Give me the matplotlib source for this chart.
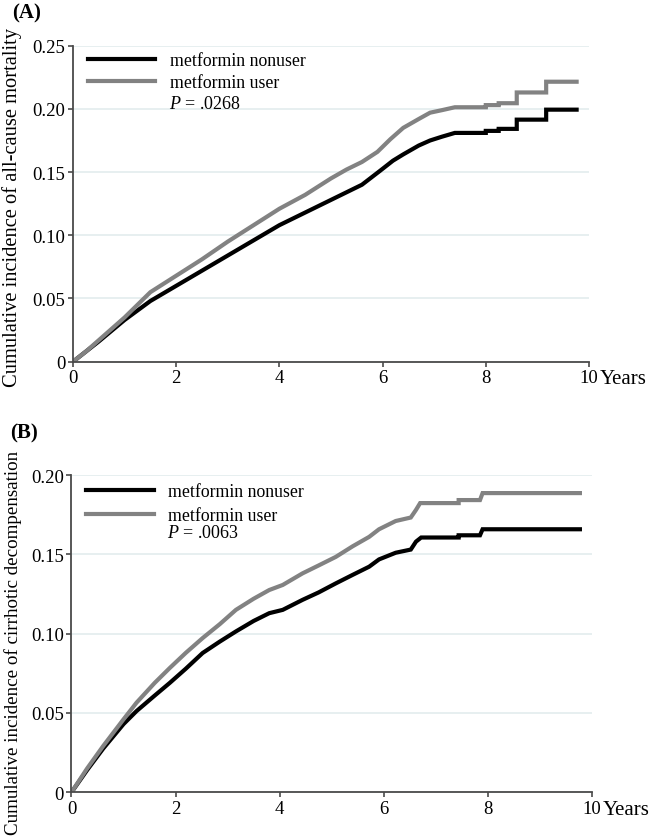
import matplotlib
matplotlib.use('Agg')
import matplotlib.pyplot as plt
from matplotlib.lines import Line2D

plt.rcParams['font.family'] = ['Liberation Serif', 'DejaVu Serif']
plt.rcParams['mathtext.fontset'] = 'custom'
plt.rcParams['mathtext.it'] = 'Liberation Serif:italic'
plt.rcParams['mathtext.rm'] = 'Liberation Serif'

# Panel A: all-cause mortality
a_user_t = [0, 0.25, 0.5, 1.0, 1.5, 2.0, 2.5, 3.0, 3.5, 4.0, 4.5, 5.0, 5.3, 5.6, 5.9,
            6.15, 6.4, 6.7, 6.92, 7.15, 7.4, 8.0, 8.0, 8.25, 8.25, 8.6, 8.6, 9.17, 9.17, 9.76]
a_user_v = [0, 0.008, 0.017, 0.035, 0.055, 0.068, 0.081, 0.095, 0.108, 0.121, 0.132, 0.145,
            0.152, 0.158, 0.166, 0.176, 0.185, 0.192, 0.197, 0.199, 0.2013, 0.2013, 0.203,
            0.203, 0.2045, 0.2045, 0.213, 0.213, 0.2215, 0.2215]
a_non_t = [0, 0.25, 0.5, 1.0, 1.5, 2.0, 2.5, 3.0, 3.5, 4.0, 4.5, 5.0, 5.3, 5.6, 5.95,
           6.2, 6.4, 6.7, 6.92, 7.15, 7.4, 8.0, 8.0, 8.25, 8.25, 8.6, 8.6, 9.17, 9.17, 9.76]
a_non_v = [0, 0.008, 0.016, 0.033, 0.048, 0.060, 0.072, 0.084, 0.096, 0.108, 0.118, 0.128,
           0.134, 0.140, 0.151, 0.159, 0.164, 0.171, 0.175, 0.178, 0.181, 0.181, 0.1826,
           0.1826, 0.1842, 0.1842, 0.1915, 0.1915, 0.1994, 0.1994]

# Panel B: cirrhotic decompensation
b_user_t = [0, 0.3, 0.61, 1.0, 1.25, 1.6, 1.89, 2.2, 2.52, 2.85, 3.16, 3.5, 3.8, 4.06, 4.44,
            4.75, 5.08, 5.4, 5.72, 5.91, 6.23, 6.52, 6.62, 6.7, 7.44, 7.44, 7.85, 7.9, 9.77]
b_user_v = [0, 0.015, 0.0292, 0.046, 0.0565, 0.069, 0.0784, 0.088, 0.0972, 0.106, 0.115,
            0.122, 0.1275, 0.1307, 0.138, 0.143, 0.1484, 0.155, 0.161, 0.1658, 0.171, 0.1732,
            0.178, 0.1823, 0.1823, 0.1842, 0.1842, 0.1886, 0.1886]
b_non_t = [0, 0.3, 0.61, 1.0, 1.25, 1.6, 1.89, 2.2, 2.52, 2.85, 3.16, 3.5, 3.8, 4.06, 4.44,
           4.75, 5.08, 5.4, 5.72, 5.91, 6.23, 6.52, 6.62, 6.72, 7.44, 7.44, 7.85, 7.9, 9.77]
b_non_v = [0, 0.014, 0.0276, 0.043, 0.0512, 0.061, 0.069, 0.078, 0.0878, 0.095, 0.1014,
           0.108, 0.1129, 0.115, 0.1213, 0.126, 0.1317, 0.137, 0.1422, 0.1468, 0.151, 0.153,
           0.158, 0.1606, 0.1606, 0.162, 0.162, 0.1658, 0.1658]

labels = ['metformin nonuser', 'metformin user']
x_ticks = [0, 2, 4, 6, 8, 10]
a_yticks = [0, 0.05, 0.10, 0.15, 0.20, 0.25]
b_yticks = [0, 0.05, 0.10, 0.15, 0.20]

BLACK = '#000000'
GRAY = '#828282'
AXC = '#4a4a4a'
GRIDC = '#e3ecee'

fig = plt.figure(figsize=(6.54, 8.37), dpi=100)
axA = fig.add_axes([0.1116, 0.5667, 0.789, 0.3775])
axB = fig.add_axes([0.1093, 0.0522, 0.7957, 0.3791])


def style(ax, yticks, ylabel, ylsize, pval, panel):
    ax.set_xlim(0, 10)
    ax.set_ylim(0, yticks[-1])
    ax.set_xticks(x_ticks)
    ax.set_xticklabels([str(t) for t in x_ticks])
    ax.set_yticks(yticks)
    ax.set_yticklabels(['0'] + ['%.2f' % v for v in yticks[1:]])
    for s in ['top', 'right']:
        ax.spines[s].set_visible(False)
    for s in ['left', 'bottom']:
        ax.spines[s].set_color(AXC)
        ax.spines[s].set_linewidth(1.3)
    ax.tick_params(direction='out', length=3.6, width=1.2, color=AXC, labelsize=13.5, pad=2)
    ax.yaxis.grid(True, color=GRIDC, lw=1.2)
    ax.set_axisbelow(True)
    ax.set_ylabel(ylabel, fontsize=ylsize)
    ax.yaxis.set_label_coords(panel['lx'], panel['lyc'])
    ax.annotate('Years', xy=(10.2, 0), xycoords=('data', 'axes fraction'),
                xytext=(0, -5.6), textcoords='offset points', fontsize=15,
                ha='left', va='top', annotation_clip=False)
    handles = [Line2D([], [], color=BLACK, lw=3), Line2D([], [], color=GRAY, lw=3)]
    ax.legend(handles, labels, loc='upper left', bbox_to_anchor=(0.022, panel['legy']),
              frameon=False, fontsize=12.8, handlelength=3.8, handletextpad=0.8,
              labelspacing=panel['ls'], borderpad=0.2, borderaxespad=0)
    ax.text(panel['px'], panel['py'], r'$P$ = ' + pval, transform=ax.transAxes,
            fontsize=13, ha='left', va='center')
    ax.text(-0.118, panel['ly'], panel['lab'], transform=ax.transAxes, fontsize=15,
            fontweight='bold', ha='left', va='center')


axA.plot(a_non_t, a_non_v, color=BLACK, lw=3, solid_joinstyle='miter')
axA.plot(a_user_t, a_user_v, color=GRAY, lw=3, solid_joinstyle='miter')
style(axA, a_yticks, 'Cumulative incidence of all-cause mortality', 14.8, '.0268',
      {'px': 0.187, 'py': 0.816, 'ly': 1.105, 'lab': '(A)', 'legy': 0.99, 'ls': 0.28,
       'lx': -0.099, 'lyc': 0.49})

axB.plot(b_non_t, b_non_v, color=BLACK, lw=3, solid_joinstyle='miter')
axB.plot(b_user_t, b_user_v, color=GRAY, lw=3, solid_joinstyle='miter')
style(axB, b_yticks, 'Cumulative incidence of cirrhotic decompensation', 13.7, '.0063',
      {'px': 0.183, 'py': 0.82, 'ly': 1.135, 'lab': '(B)', 'legy': 0.985, 'ls': 0.38,
       'lx': -0.095, 'lyc': 0.475})

fig.savefig('out.png', dpi=100)
